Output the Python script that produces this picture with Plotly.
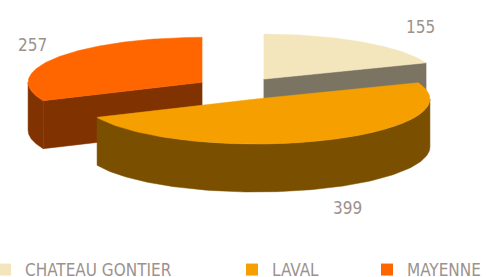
import math
import plotly.graph_objects as go

# ---- data ----
categories = ["CHATEAU GONTIER", "LAVAL", "MAYENNE"]
values = [155, 399, 257]
top_colors = ["#F3E6BD", "#F5A000", "#FF6600"]
side_colors = ["#7B7462", "#7A5000", "#803300"]

# ---- pie geometry (pixel space) ----
W, H = 486, 277
cx, cy = 239, 88.5        # pie centre
rx, ry = 174, 45          # ellipse radii
depth = 48                # thickness
explode = 44              # explosion distance (x units)
label_xy = [(420, 27), (347, 208), (32, 45)]
text_color = "#9C928D"
font_family = "DejaVu Sans Condensed, DejaVu Sans, sans-serif"

total = sum(values)
ratio = ry / rx


def pt(ax, ay, th, dz=0.0):
    return ax + rx * math.sin(th), ay - ry * math.cos(th) + dz


def arc(ax, ay, a0, a1, dz=0.0, n=120):
    xs, ys = [], []
    for i in range(n + 1):
        th = a0 + (a1 - a0) * i / n
        x, y = pt(ax, ay, th, dz)
        xs.append(x)
        ys.append(y)
    return xs, ys


slices = []
acc = 0.0
for i, v in enumerate(values):
    a0 = 2 * math.pi * acc / total
    acc += v
    a1 = 2 * math.pi * acc / total
    mid = (a0 + a1) / 2
    ax = cx + explode * math.sin(mid)
    ay = cy - explode * ratio * math.cos(mid)
    slices.append(dict(i=i, a0=a0, a1=a1, ax=ax, ay=ay))

fig = go.Figure()


def poly(xs, ys, color):
    fig.add_trace(go.Scatter(
        x=xs + [xs[0]], y=ys + [ys[0]], mode="lines", fill="toself",
        fillcolor=color, line=dict(color=color, width=0.5),
        hoverinfo="skip", showlegend=False))


for s in sorted(slices, key=lambda s: s["ay"]):
    i, a0, a1, ax, ay = s["i"], s["a0"], s["a1"], s["ax"], s["ay"]
    side = side_colors[i]
    # radial walls
    for th, normal in ((a0, a0 - math.pi / 2), (a1, a1 + math.pi / 2)):
        if math.cos(normal) < 0:
            x1, y1 = pt(ax, ay, th)
            poly([ax, x1, x1, ax], [ay, y1, y1 + depth, ay + depth], side)
    # outer wall (front half only)
    lo, hi = max(a0, math.pi / 2), min(a1, 3 * math.pi / 2)
    if hi > lo:
        xt, yt = arc(ax, ay, lo, hi)
        xb, yb = arc(ax, ay, lo, hi, depth)
        poly(xt + xb[::-1], yt + yb[::-1], side)
    # top face
    xs, ys = arc(ax, ay, a0, a1)
    poly([ax] + xs, [ay] + ys, top_colors[i])

# value labels
for (lx, ly), v in zip(label_xy, values):
    fig.add_annotation(x=lx, y=ly, text=str(v), showarrow=False,
                       font=dict(size=17, color=text_color, family=font_family))

# legend entries (text starts ~40px right of the legend's x)
legend_x = [-15, 232, 367]
for k, (name, col) in enumerate(zip(categories, top_colors)):
    lg = "legend" if k == 0 else f"legend{k + 1}"
    fig.add_trace(go.Scatter(
        x=[None], y=[None], mode="markers", name=name, legend=lg,
        marker=dict(symbol="square", size=12, color=col)))

leg_common = dict(orientation="h", yanchor="middle", y=1 - 270 / H,
                  xanchor="left", bgcolor="rgba(0,0,0,0)", itemwidth=30,
                  font=dict(size=17, color=text_color, family=font_family))
fig.update_layout(
    width=W, height=H,
    margin=dict(l=0, r=0, t=0, b=0, autoexpand=False),
    paper_bgcolor="white", plot_bgcolor="white",
    xaxis=dict(range=[0, W], visible=False, fixedrange=True),
    yaxis=dict(range=[H, 0], visible=False, fixedrange=True),
    legend=dict(x=legend_x[0] / W, **leg_common),
    legend2=dict(x=legend_x[1] / W, **leg_common),
    legend3=dict(x=legend_x[2] / W, **leg_common),
)

fig.write_html("out.html", config={"displayModeBar": False},
               post_script="document.body.style.margin='0';"
                           "document.body.style.overflow='hidden';")
